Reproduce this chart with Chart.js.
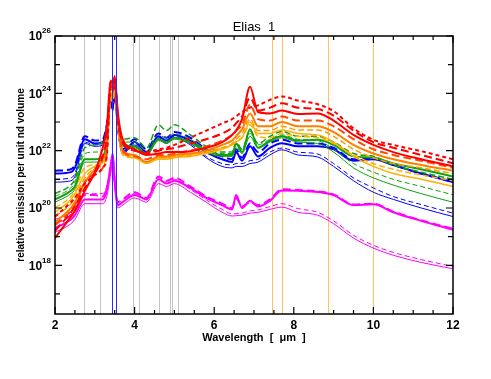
<!DOCTYPE html>
<html>
<head>
<meta charset="utf-8">
<script src="https://cdn.jsdelivr.net/npm/chart.js@4.4.0/dist/chart.umd.min.js"></script>
<style>
  html, body { margin: 0; padding: 0; background: #fff; }
  canvas { display: block; }
</style>
</head>
<body>
<canvas id="sed" width="491" height="379"></canvas>
<script>
// wavelength grid (micron), values below are log10 of the emission
const wavelength = [2.0, 2.4, 2.5, 2.75, 3.0, 3.2, 3.3, 3.4, 3.45, 3.5, 3.58, 3.7, 4.0, 4.3, 4.6, 4.8, 5.0, 5.4, 5.8, 6.2, 6.45, 6.55, 6.7, 6.9, 7.1, 7.4, 7.7, 8.1, 8.6, 9.0, 9.5, 10.0, 10.5, 11.2, 12.0];

const redDot      = [19.7, 20.2, 20.35, 20.85, 21.15, 21.4, 21.8, 24.2, 24.1, 24.3, 23.0, 22.3, 22.0, 21.95, 22.05, 22.1, 22.2, 22.45, 22.7, 22.95, 23.1, 23.2, 23.35, 23.5, 23.58, 23.77, 23.89, 23.75, 23.62, 23.38, 22.78, 22.38, 22.2, 21.98, 21.7];
const redDash     = [19.2, 19.85, 20.05, 20.7, 21.2, 21.8, 22.5, 24.4, 24.25, 24.5, 23.2, 22.3, 22.0, 21.9, 22.0, 22.05, 22.1, 22.25, 22.4, 22.6, 22.8, 22.95, 23.2, 23.84, 23.4, 23.5, 23.65, 23.5, 23.45, 23.22, 22.7, 22.3, 22.1, 21.85, 21.56];
const redSolid    = [18.95, 19.7, 19.9, 20.6, 21.25, 22.1, 22.8, 24.45, 24.3, 24.6, 23.3, 22.4, 22.05, 21.85, 21.9, 21.95, 21.95, 21.98, 22.1, 22.3, 22.55, 22.7, 23.1, 24.23, 23.35, 23.3, 23.4, 23.28, 23.3, 23.05, 22.55, 22.2, 21.95, 21.7, 21.45];
const orredDash   = [19.4, 19.9, 20.1, 20.9, 21.2, 21.4, 21.9, 24.3, 24.2, 24.4, 23.1, 22.0, 21.8, 21.7, 21.85, 21.85, 21.9, 22.0, 22.15, 22.35, 22.55, 22.7, 22.9, 23.6, 23.1, 23.05, 23.19, 23.05, 23.05, 22.85, 22.4, 22.05, 21.85, 21.65, 21.4];
const orangeSolid = [19.5, 20.0, 20.2, 20.9, 21.35, 21.7, 22.1, 24.2, 24.1, 24.4, 23.1, 22.0, 21.85, 21.6, 21.8, 21.8, 21.85, 21.9, 22.0, 22.2, 22.35, 22.5, 22.75, 23.3, 22.85, 22.85, 23.0, 22.85, 22.85, 22.65, 22.2, 21.9, 21.7, 21.5, 21.3];
const orangeDash  = [19.7, 20.15, 20.35, 21.05, 21.4, 21.6, 22.0, 24.0, 23.9, 24.2, 22.9, 21.95, 21.8, 21.6, 21.75, 21.75, 21.8, 21.85, 21.95, 22.1, 22.25, 22.4, 22.6, 23.1, 22.7, 22.7, 22.85, 22.72, 22.72, 22.5, 22.05, 21.75, 21.55, 21.4, 21.2];
const goldSolid   = [19.85, 20.3, 20.5, 21.2, 21.45, 21.6, 21.95, 23.9, 23.8, 24.1, 22.8, 21.9, 21.75, 21.55, 21.7, 21.7, 21.75, 21.8, 21.9, 22.05, 22.2, 22.3, 22.45, 23.0, 22.6, 22.6, 22.72, 22.6, 22.55, 22.3, 21.8, 21.45, 21.2, 21.0, 20.75];
const goldDash    = [20.0, 20.4, 20.6, 21.4, 21.5, 21.55, 21.9, 23.8, 23.7, 24.0, 22.7, 21.85, 21.75, 21.6, 21.75, 21.75, 21.8, 21.85, 21.95, 22.1, 22.2, 22.35, 22.45, 22.9, 22.5, 22.45, 22.6, 22.5, 22.45, 22.25, 21.85, 21.55, 21.35, 21.15, 20.95];
const greenSolid  = [20.3, 20.6, 20.75, 21.7, 21.7, 21.8, 22.3, 24.0, 23.9, 24.2, 23.0, 22.2, 22.15, 21.9, 22.4, 22.3, 22.45, 22.3, 22.0, 21.85, 21.85, 22.25, 21.95, 22.75, 22.1, 22.35, 22.5, 22.35, 22.38, 22.2, 21.8, 21.75, 21.55, 21.35, 21.1];
const greenDash   = [20.5, 20.8, 21.0, 22.1, 22.2, 22.3, 22.6, 23.9, 23.8, 24.1, 22.9, 22.4, 22.45, 22.1, 22.9, 22.7, 22.9, 22.55, 22.15, 21.95, 21.95, 22.3, 22.05, 22.7, 22.25, 22.5, 22.67, 22.5, 22.5, 22.3, 21.9, 21.8, 21.5, 21.25, 21.0];
const greenThin   = [20.2, 20.5, 20.65, 21.6, 21.6, 21.7, 22.2, 23.9, 23.8, 24.1, 22.9, 22.15, 22.1, 21.85, 22.35, 22.25, 22.4, 22.25, 21.95, 21.8, 21.8, 22.1, 21.9, 22.5, 22.1, 22.3, 22.45, 22.3, 22.25, 21.95, 21.4, 21.05, 20.8, 20.5, 20.2];
const greenThinDash = [20.4, 20.7, 20.9, 21.9, 21.95, 22.0, 22.4, 23.9, 23.8, 24.0, 22.9, 22.3, 22.3, 22.0, 22.55, 22.45, 22.6, 22.4, 22.05, 21.9, 21.9, 22.2, 22.0, 22.6, 22.2, 22.4, 22.55, 22.4, 22.35, 22.05, 21.55, 21.25, 21.0, 20.75, 20.46];
const blueSolid   = [21.2, 21.25, 21.4, 22.4, 22.25, 22.3, 22.8, 23.7, 23.5, 24.0, 22.8, 21.95, 22.3, 21.95, 22.5, 22.35, 22.55, 22.35, 21.95, 21.7, 21.6, 21.95, 21.65, 22.15, 21.8, 22.1, 22.26, 22.15, 22.15, 22.05, 21.65, 21.7, 21.5, 21.2, 20.9];
const blueDash    = [21.3, 21.35, 21.5, 22.5, 22.35, 22.4, 22.9, 23.8, 23.6, 24.1, 22.9, 22.05, 22.4, 22.05, 22.6, 22.45, 22.65, 22.45, 22.05, 21.8, 21.7, 22.05, 21.75, 22.25, 21.95, 22.25, 22.38, 22.25, 22.25, 22.1, 21.7, 21.72, 21.5, 21.2, 20.92];
const blueThin    = [20.9, 20.95, 21.1, 22.25, 22.15, 22.2, 22.7, 23.6, 23.4, 23.9, 22.7, 21.9, 22.2, 21.85, 22.4, 22.25, 22.45, 22.2, 21.75, 21.45, 21.4, 21.45, 21.45, 21.55, 21.6, 21.85, 22.03, 21.85, 21.78, 21.45, 20.95, 20.55, 20.3, 20.0, 19.7];
const blueThinDash = [21.0, 21.05, 21.2, 22.3, 22.2, 22.25, 22.75, 23.6, 23.4, 23.9, 22.7, 21.95, 22.25, 21.9, 22.45, 22.3, 22.5, 22.25, 21.8, 21.55, 21.5, 21.55, 21.55, 21.65, 21.7, 21.95, 22.09, 21.95, 21.88, 21.55, 21.05, 20.7, 20.4, 20.12, 19.82];
const magSolid    = [19.3, 19.6, 19.75, 20.3, 20.3, 20.3, 20.6, 21.5, 21.9, 21.0, 20.1, 20.2, 20.45, 20.3, 21.0, 20.85, 20.95, 20.7, 20.35, 20.1, 19.95, 20.45, 20.0, 20.25, 20.05, 20.25, 20.61, 20.6, 20.56, 20.45, 20.1, 20.13, 19.85, 19.55, 19.24];
const magDash     = [19.45, 19.75, 19.9, 20.45, 20.45, 20.4, 20.7, 21.4, 21.8, 20.9, 20.2, 20.3, 20.55, 20.35, 21.1, 20.95, 21.05, 20.75, 20.4, 20.15, 20.0, 20.35, 20.05, 20.2, 20.1, 20.3, 20.65, 20.63, 20.58, 20.47, 20.12, 20.15, 19.87, 19.57, 19.27];
const magThin     = [19.15, 19.45, 19.6, 20.15, 20.15, 20.15, 20.4, 21.2, 21.6, 20.7, 20.0, 20.1, 20.35, 20.2, 20.85, 20.75, 20.85, 20.55, 20.2, 19.85, 19.72, 19.73, 19.75, 19.82, 19.85, 19.95, 20.03, 19.85, 19.75, 19.45, 18.95, 18.6, 18.35, 18.1, 17.88];
const magThinDash = [19.6, 19.85, 20.0, 20.5, 20.5, 20.5, 20.75, 21.3, 21.7, 20.8, 20.1, 20.25, 20.5, 20.3, 21.05, 20.9, 21.0, 20.65, 20.28, 19.95, 19.8, 19.8, 19.82, 19.9, 19.93, 20.05, 20.15, 19.98, 19.85, 19.55, 19.05, 18.7, 18.45, 18.2, 17.96];

// marker lines (micron)
const grayLines = [2.72, 3.12, 3.95, 4.10, 4.61, 4.88, 4.93, 5.08];
const blueLines = [3.43, 3.54];
const orangeLines = [7.44, 7.70, 8.85, 10.0];

// axes
const xMajor = [2, 4, 6, 8, 10, 12];
const xMinor = [2.5, 3, 3.5, 4.5, 5, 5.5, 6.5, 7, 7.5, 8.5, 9, 9.5, 10.5, 11, 11.5];
const yMajorExp = [18, 20, 22, 24, 26];
const yMinorExp = [17, 19, 21, 23, 25];

function series(vals, color, width, dash) {
  return {
    data: wavelength.map((w, i) => ({ x: w, y: Math.pow(10, vals[i]) })),
    borderColor: color,
    borderWidth: width,
    borderDash: dash || [],
    pointRadius: 0,
    cubicInterpolationMode: 'monotone',
    fill: false
  };
}

const frame = {
  id: 'frame',
  beforeDatasetsDraw(chart) {
    const { ctx, chartArea: a, scales: { x } } = chart;
    ctx.save();
    ctx.lineWidth = 1;
    const vline = (v, col) => {
      const px = Math.round(x.getPixelForValue(v)) + 0.5;
      ctx.strokeStyle = col;
      ctx.beginPath(); ctx.moveTo(px, a.top); ctx.lineTo(px, a.bottom); ctx.stroke();
    };
    grayLines.forEach(v => vline(v, '#c4c4c4'));
    orangeLines.forEach(v => vline(v, '#ffc25c'));
    ctx.restore();
  },
  afterDatasetsDraw(chart) {
    const { ctx, chartArea: a, scales: { x, y } } = chart;
    ctx.save();
    ctx.lineWidth = 1;
    blueLines.forEach(v => {
      const px = Math.round(x.getPixelForValue(v)) + 0.5;
      ctx.strokeStyle = '#2a2aff';
      ctx.beginPath(); ctx.moveTo(px, a.top); ctx.lineTo(px, a.bottom); ctx.stroke();
    });

    ctx.strokeStyle = '#000';
    ctx.lineWidth = 1.5;
    ctx.strokeRect(a.left, a.top, a.right - a.left, a.bottom - a.top);

    ctx.lineWidth = 1.2;
    ctx.beginPath();
    const xt = (v, len) => {
      const px = x.getPixelForValue(v);
      ctx.moveTo(px, a.bottom); ctx.lineTo(px, a.bottom - len);
      ctx.moveTo(px, a.top); ctx.lineTo(px, a.top + len);
    };
    const yt = (e, len) => {
      const py = y.getPixelForValue(Math.pow(10, e));
      ctx.moveTo(a.left, py); ctx.lineTo(a.left + len, py);
      ctx.moveTo(a.right, py); ctx.lineTo(a.right - len, py);
    };
    xMajor.forEach(v => xt(v, 7));
    xMinor.forEach(v => xt(v, 4));
    yMajorExp.forEach(e => yt(e, 7));
    yMinorExp.forEach(e => yt(e, 5));
    ctx.stroke();

    ctx.fillStyle = '#000';
    ctx.textBaseline = 'middle';
    ctx.textAlign = 'center';
    ctx.font = 'bold 12px "Liberation Sans"';
    xMajor.forEach(v => ctx.fillText(String(v), x.getPixelForValue(v), a.bottom + 12));

    yMajorExp.forEach(e => {
      const py = y.getPixelForValue(Math.pow(10, e));
      ctx.font = 'bold 8px "Liberation Sans"';
      const we = ctx.measureText(String(e)).width;
      ctx.font = 'bold 12px "Liberation Sans"';
      const wb = ctx.measureText('10').width;
      const right = a.left - 4;
      ctx.textAlign = 'left';
      ctx.fillText('10', right - we - wb, py + 1);
      ctx.font = 'bold 8px "Liberation Sans"';
      ctx.fillText(String(e), right - we, py - 5);
    });

    ctx.textAlign = 'center';
    ctx.font = '13px "Liberation Sans"';
    ctx.fillText('Elias  1', (a.left + a.right) / 2, 27);
    ctx.font = 'bold 11px "Liberation Sans"';
    ctx.fillText('Wavelength  [  \u03bcm  ]', (a.left + a.right) / 2, a.bottom + 24);

    ctx.translate(21, (a.top + a.bottom) / 2);
    ctx.rotate(-Math.PI / 2);
    ctx.font = 'bold 10px "Liberation Sans"';
    ctx.fillText('relative emission per unit nd volume', 0, 0);
    ctx.restore();
  }
};

const ctx = document.getElementById('sed').getContext('2d');

const chart = new Chart(ctx, {
  type: 'line',
  data: {
    datasets: [
      series(redDot, '#ff0000', 2, [4, 3]),
      series(redDash, '#ff0000', 2, [8, 4]),
      series(redSolid, '#ff0000', 2),
      series(orredDash, '#ff4a00', 2, [8, 4]),
      series(orangeSolid, '#ff8000', 2),
      series(orangeDash, '#ff9c00', 1.5, [6, 3]),
      series(goldSolid, '#ffb000', 1.5),
      series(goldDash, '#ffb000', 1.5, [6, 3]),
      series(greenSolid, '#10a010', 2),
      series(greenDash, '#10a010', 1.5, [6, 3]),
      series(greenThin, '#10a010', 1),
      series(greenThinDash, '#10a010', 1, [5, 3]),
      series(blueSolid, '#0000ff', 2),
      series(blueDash, '#0000ff', 2, [8, 4]),
      series(blueThin, '#0000ff', 1),
      series(blueThinDash, '#0000ff', 1, [5, 3]),
      series(magSolid, '#ff00ff', 2),
      series(magDash, '#ff00ff', 2, [8, 4]),
      series(magThin, '#ff00ff', 1),
      series(magThinDash, '#ff00ff', 1, [5, 3])
    ]
  },
  options: {
    responsive: false,
    animation: false,
    layout: { padding: { left: 55, right: 38, top: 36, bottom: 65 } },
    plugins: {
      legend: { display: false },
      tooltip: { enabled: false }
    },
    scales: {
      x: { type: 'linear', min: 2, max: 12, display: false },
      y: { type: 'logarithmic', min: 2e16, max: 1e26, display: false }
    }
  },
  plugins: [frame]
});
</script>
</body>
</html>
